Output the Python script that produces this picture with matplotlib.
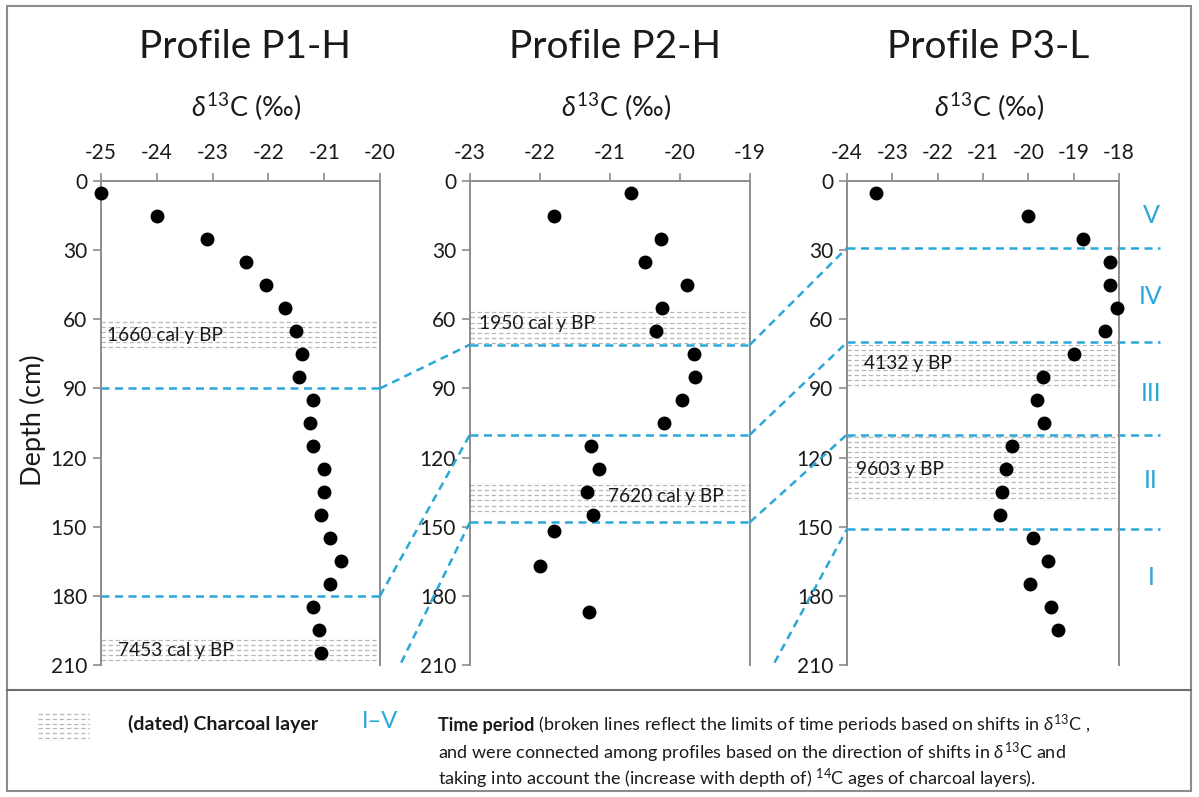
import matplotlib

matplotlib.use("Agg")

import matplotlib.pyplot as plt
from matplotlib.patches import Rectangle
from matplotlib.lines import Line2D
from matplotlib.text import Annotation

plt.rcParams["font.family"] = ["Lato", "DejaVu Sans"]
plt.rcParams["axes.unicode_minus"] = False
plt.rcParams["mathtext.fontset"] = "custom"
plt.rcParams["mathtext.rm"] = "Lato"
plt.rcParams["mathtext.it"] = "Lato:italic"
plt.rcParams["mathtext.bf"] = "Lato:bold"
plt.rcParams["mathtext.fallback"] = "stixsans"

# --- data ---------------------------------------------------------------
p1_depth = [5, 15, 25, 35, 45, 55, 65, 75, 85, 95, 105, 115, 125, 135, 145,
            155, 165, 175, 185, 195, 205]
p1_d13c = [-25.0, -24.0, -23.1, -22.4, -22.05, -21.7, -21.5, -21.4, -21.45,
           -21.2, -21.25, -21.2, -21.0, -21.0, -21.05, -20.9, -20.7, -20.9,
           -21.2, -21.1, -21.05]

p2_depth = [5, 15, 25, 35, 45, 55, 65, 75, 85, 95, 105, 115, 125, 135, 145,
            152, 167, 187]
p2_d13c = [-20.7, -21.8, -20.27, -20.5, -19.9, -20.26, -20.34, -19.8, -19.78,
           -19.97, -20.23, -21.27, -21.16, -21.33, -21.24, -21.8, -22.0, -21.3]

p3_depth = [5, 15, 25, 35, 45, 55, 65, 75, 85, 95, 105, 115, 125, 135, 145,
            155, 165, 175, 185, 195]
p3_d13c = [-23.35, -20.0, -18.8, -18.2, -18.2, -18.05, -18.3, -19.0, -19.68,
           -19.8, -19.65, -20.35, -20.5, -20.58, -20.63, -19.9, -19.57, -19.96,
           -19.5, -19.35]

# time-period boundaries (depth, cm)
p1_periods = [90, 180]
p2_periods = [71, 110, 148]
p3_periods = [29, 70, 110, 151]

# dated charcoal layers: top, bottom, label
p1_char_top = [60, 198]
p1_char_bot = [74, 208]
p1_char_label = ["1660 cal y BP", "7453 cal y BP"]
p2_char_top = [56, 131]
p2_char_bot = [71, 143]
p2_char_label = ["1950 cal y BP", "7620 cal y BP"]
p3_char_top = [70, 110]
p3_char_bot = [89, 139]
p3_char_label = ["4132 y BP", "9603 y BP"]

period_names = ["V", "IV", "III", "II", "I"]
period_label_depth = [15, 50, 92, 130, 172]

titles = ["Profile P1-H", "Profile P2-H", "Profile P3-L"]
xlims = [(-25, -20), (-23, -19), (-24, -18)]

BLUE = "#2aa7d9"
SPINE = "#8c8c8c"
TEXT = "#1a1a1a"
HATCH = "#b8b8b8"
W, H = 1199, 797


def hatch_rows(ax, top, bot, x0, x1):
    """Charcoal layer: rows of short grey dashes between top and bot."""
    d = top + 1.0
    while d < bot:
        ax.plot([x0, x1], [d, d], color=HATCH, lw=0.9,
                dashes=(3.5, 2.2), dash_capstyle="butt", zorder=1)
        d += 2.2


fig = plt.figure(figsize=(W / 100, H / 100), dpi=100)

# axes frames in pixels (left, right)
frames = [(101, 380), (470, 750), (847, 1119)]
top_px, bot_px = 181, 665
axes = []
for (l, r) in frames:
    ax = fig.add_axes([l / W, 1 - bot_px / H, (r - l) / W, (bot_px - top_px) / H])
    axes.append(ax)

profiles = [
    (p1_d13c, p1_depth, p1_periods, p1_char_top, p1_char_bot, p1_char_label),
    (p2_d13c, p2_depth, p2_periods, p2_char_top, p2_char_bot, p2_char_label),
    (p3_d13c, p3_depth, p3_periods, p3_char_top, p3_char_bot, p3_char_label),
]
label_x = [[-24.9, -24.7], [-22.87, -21.03], [-23.62, -23.8]]
label_dy = [[67, 203.5], [62, 137], [79, 125]]

for i, (ax, prof) in enumerate(zip(axes, profiles)):
    xs, ds, periods, ctop, cbot, clab = prof
    lo, hi = xlims[i]
    ax.set_xlim(lo, hi)
    ax.set_ylim(210, 0)
    ax.set_facecolor("none")

    for t, b, lab, lx, ly in zip(ctop, cbot, clab, label_x[i], label_dy[i]):
        hatch_rows(ax, t, b, lo, hi)
        ax.text(lx, ly, lab, fontsize=13.8, color=TEXT, va="center", ha="left",
                zorder=3)

    x_end = hi + 0.9 if i == 2 else hi
    for p in periods:
        ax.plot([lo, x_end], [p, p], color=BLUE, lw=1.8, dashes=(3.2, 2.2),
                clip_on=False, zorder=2)

    ax.plot(xs, ds, "o", color="black", ms=9, zorder=4, clip_on=False)

    ax.xaxis.tick_top()
    ax.set_xticks(range(lo, hi + 1))
    ax.set_yticks(range(0, 211, 30))
    ax.tick_params(axis="x", direction="out", length=6, width=1.2,
                   color=SPINE, labelsize=15, labelcolor=TEXT, pad=7)
    ax.tick_params(axis="y", direction="out", length=6, width=1.2,
                   color=SPINE, labelsize=15, labelcolor=TEXT, pad=4)
    for s in ("top", "left", "right"):
        ax.spines[s].set_color(SPINE)
        ax.spines[s].set_linewidth(1.4)
    ax.spines["bottom"].set_visible(False)

    cx = (frames[i][0] + frames[i][1]) / 2 / W
    fig.text(cx + 0.004, 1 - 47 / H, titles[i], fontsize=28, color=TEXT,
             ha="center", va="center")
    fig.text(cx + 0.005, 1 - 107 / H, r"$\delta^{13}$C (‰)", fontsize=19.5,
             color=TEXT, ha="center", va="center")

fig.text(33 / W, 1 - 420 / H, "Depth (cm)", rotation=90, fontsize=19.5,
         color=TEXT, ha="center", va="center")

# period labels to the right of P3
ax3 = axes[2]
for name, d in zip(period_names, period_label_depth):
    ax3.text(1.118, d, name, transform=ax3.get_yaxis_transform(),
             fontsize=18, color=BLUE, ha="center", va="center")

# connections between profiles (axes are placed by hand, so the
# data->figure transforms are already final here)
ax1, ax2 = axes[0], axes[1]
links = [
    (ax1, (-20, 90), ax2, (-23, 71)),
    (ax1, (-20, 180), ax2, (-23, 110)),
    (ax1, (-19.62, 209), ax2, (-23, 148)),
    (ax2, (-19, 71), ax3, (-24, 29)),
    (ax2, (-19, 110), ax3, (-24, 70)),
    (ax2, (-19, 148), ax3, (-24, 110)),
    (ax2, (-18.65, 209), ax3, (-24, 151)),
]
to_fig = fig.transFigure.inverted()
for a, pa, b, pb in links:
    fa = to_fig.transform(a.transData.transform(pa))
    fb = to_fig.transform(b.transData.transform(pb))
    fig.add_artist(Line2D([fa[0], fb[0]], [fa[1], fb[1]],
                          transform=fig.transFigure, color=BLUE, lw=1.8,
                          dashes=(3.2, 2.2)))

# outer frame and legend separator
fig.add_artist(Rectangle((7 / W, 1 - 791 / H), (1191 - 7) / W, (791 - 6) / H,
                         transform=fig.transFigure, fill=False,
                         edgecolor=SPINE, lw=1.5))
fig.add_artist(Line2D([7 / W, 1191 / W], [1 - 690 / H, 1 - 690 / H],
                      transform=fig.transFigure, color="#6e6e6e", lw=1.5))

# legend: charcoal swatch
sw = fig.add_axes([38 / W, 1 - 740 / H, 52 / W, 28 / H])
sw.set_xlim(0, 1)
sw.set_ylim(13, 0)
sw.axis("off")
hatch_rows(sw, 0, 13, 0, 1)
fig.text(128 / W, 1 - 724 / H, "(dated) Charcoal layer", fontsize=14,
         fontweight="bold", color=TEXT, ha="left", va="center")
fig.text(362 / W, 1 - 722 / H, "I–V", fontsize=17, color=BLUE,
         ha="left", va="center")

t1 = fig.text(438 / W, 1 - 725 / H, "Time period", fontsize=13,
              fontweight="bold", color=TEXT, ha="left", va="center")
fig.add_artist(Annotation(
    r" (broken lines reflect the limits of time periods based on shifts in $\delta^{13}$C ,",
    xy=(1, 0.5), xycoords=t1, va="center", ha="left", fontsize=13, color=TEXT,
    annotation_clip=False))
fig.text(438 / W, 1 - 753 / H,
         r"and were connected among profiles based on the direction of shifts in $\delta^{13}$C and",
         fontsize=13, color=TEXT, ha="left", va="center")
fig.text(438 / W, 1 - 779 / H,
         r"taking into account the (increase with depth of) $^{14}$C ages of charcoal layers).",
         fontsize=13, color=TEXT, ha="left", va="center")

fig.savefig("out.png", dpi=100, facecolor="white")
